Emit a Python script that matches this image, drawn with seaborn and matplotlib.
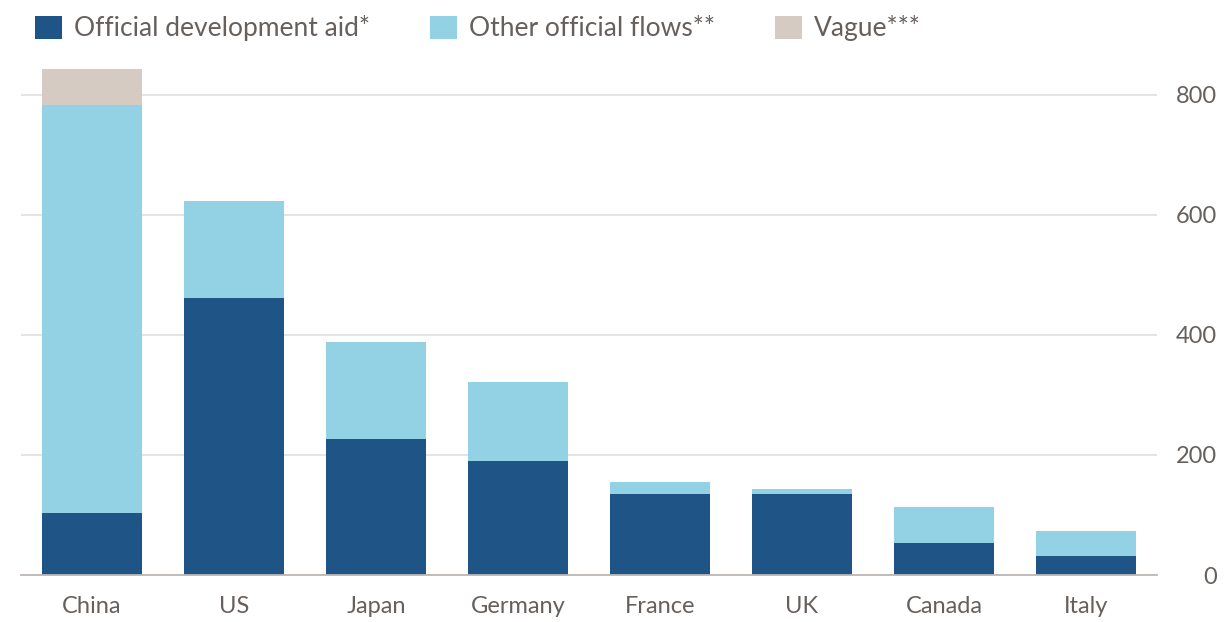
import matplotlib
matplotlib.use("Agg")
import matplotlib.pyplot as plt
from matplotlib.patches import Patch
import seaborn as sns
import pandas as pd
import numpy as np

# Datos
paises = ["China", "US", "Japan", "Germany", "France", "UK", "Canada", "Italy"]
oda = [104, 462, 226, 190, 135, 135, 53, 32]
oof = [679, 161, 163, 132, 20, 9, 60, 41]
vague = [60, 0, 0, 0, 0, 0, 0, 0]
series = ["Official development aid*", "Other official flows**", "Vague***"]
colores = ["#1f5487", "#93d1e5", "#d6cbc2"]
yticks = [0, 200, 400, 600, 800]

GRIS = "#66605c"

sns.set_theme(style="white")
plt.rcParams["font.family"] = ["Lato", "DejaVu Sans"]

df = pd.DataFrame({"pais": paises, "oda": oda, "oof": oof, "vague": vague})
df["c1"] = df["oda"]
df["c2"] = df["c1"] + df["oof"]
df["c3"] = df["c2"] + df["vague"]

fig = plt.figure(figsize=(12.32, 6.22), dpi=100)
ax = fig.add_axes([21 / 1232, 47 / 622, (1157 - 21) / 1232, 515 / 622])

# barras apiladas: de la suma total hacia abajo
for col, color in zip(["c3", "c2", "c1"], colores[::-1]):
    sns.barplot(data=df, x="pais", y=col, color=color, width=0.71,
                saturation=1, ax=ax, zorder=3, linewidth=0)

ax.set_xlim(-0.5, len(paises) - 0.5)
ax.set_ylim(0, 858)
ax.set_yticks(yticks)
ax.set_xlabel("")
ax.set_ylabel("")

ax.yaxis.tick_right()
ax.tick_params(axis="y", length=0, pad=43, labelsize=17, labelcolor=GRIS)
for lbl in ax.get_yticklabels():
    lbl.set_horizontalalignment("right")
ax.tick_params(axis="x", length=0, pad=15, labelsize=17, labelcolor=GRIS)

ax.grid(axis="y", color="#e5e1de", linewidth=1.3, zorder=0)
ax.set_axisbelow(True)
for s in ["top", "left", "right"]:
    ax.spines[s].set_visible(False)
ax.spines["bottom"].set_color("#bdb8b4")
ax.spines["bottom"].set_linewidth(1.3)
ax.spines["bottom"].set_zorder(4)

handles = [Patch(facecolor=c, edgecolor="none") for c in colores]
fig.legend(handles, series, loc="upper left", bbox_to_anchor=(17 / 1232, 1.005),
           ncol=3, frameon=False, fontsize=19, labelcolor=GRIS,
           handlelength=1.0, handleheight=1.0, handletextpad=0.45,
           columnspacing=2.3, borderaxespad=0.3)

fig.savefig("out.png", dpi=100, facecolor="white")
